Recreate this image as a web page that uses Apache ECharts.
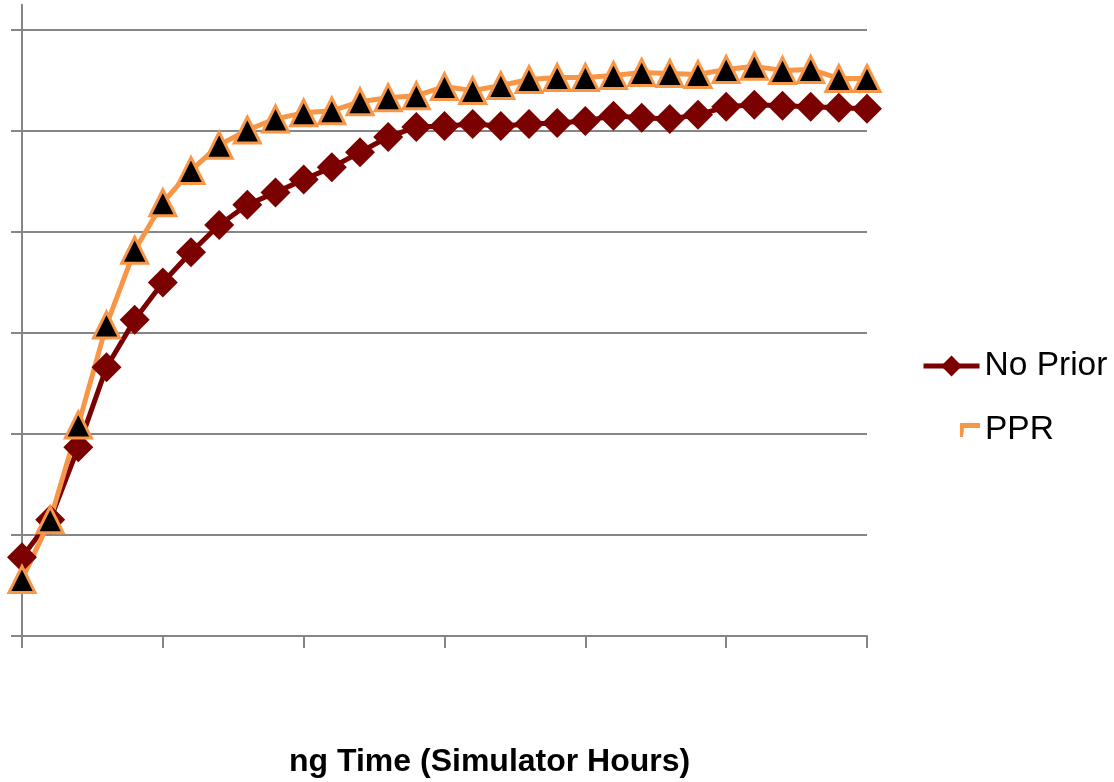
<!DOCTYPE html>
<html>
<head>
<meta charset="utf-8">
<script src="https://cdn.jsdelivr.net/npm/echarts@6/dist/echarts.min.js"></script>
<style>
html,body{margin:0;padding:0;background:#fff;}
#chart{width:1114px;height:782px;}
</style>
</head>
<body>
<div id="chart"></div>
<script>
const categories = ['0','1','2','3','4','5','6','7','8','9','10','11','12','13','14','15',
  '16','17','18','19','20','21','22','23','24','25','26','27','28','29','30'];
const noPrior = [7.8, 11.5, 18.7, 26.6, 31.3, 35.0, 38.0, 40.7, 42.7, 43.9, 45.2, 46.4, 47.9, 49.4, 50.4, 50.5,
  50.7, 50.5, 50.7, 50.8, 51.0, 51.5, 51.3, 51.2, 51.6, 52.4, 52.6, 52.5, 52.4, 52.3, 52.2];
const ppr = [5.6, 11.5, 20.9, 30.8, 38.2, 42.9, 46.1, 48.6, 50.1, 51.2, 51.8, 52.0, 52.9, 53.3, 53.5, 54.4,
  54.0, 54.5, 55.1, 55.3, 55.3, 55.5, 55.8, 55.7, 55.6, 56.1, 56.4, 56.0, 56.1, 55.2, 55.2];
const yTicks = [0, 10, 20, 30, 40, 50, 60];
const seriesNames = ['No Prior', 'PPR'];
const xTitle = 'ng Time (Simulator Hours)';

const GRAY = '#868686';
const RED = '#7B0000';
const ORANGE = '#F79646';

const chart = echarts.init(document.getElementById('chart'), null, {renderer: 'canvas'});
chart.setOption({
  animation: false,
  backgroundColor: '#ffffff',
  title: {
    text: xTitle,
    left: 289,
    top: 746,
    padding: 0,
    textStyle: {fontFamily: 'Liberation Sans', fontWeight: 'bold', fontSize: 32, color: '#000'}
  },
  grid: {left: 22, right: 247, top: 4.75, bottom: 146, containLabel: false},
  legend: [
    {
      data: [{name: seriesNames[0]}],
      left: 921, top: 349, padding: 0,
      itemWidth: 56, itemHeight: 26,
      selectedMode: false,
      lineStyle: {width: 5, color: RED},
      textStyle: {fontFamily: 'Liberation Sans', fontSize: 33.5, color: '#000'}
    },
    {
      data: [{name: seriesNames[1], icon: 'path://M0,0 L20,0 L20,5 L4,5 L3,14 L0,14 Z', itemStyle: {color: ORANGE, borderWidth: 0}}],
      left: 960, top: 413, padding: 0,
      itemWidth: 20, itemHeight: 14,
      selectedMode: false,
      textStyle: {fontFamily: 'Liberation Sans', fontSize: 33.5, color: '#000'}
    }
  ],
  xAxis: {
    type: 'category',
    data: categories,
    boundaryGap: false,
    axisLine: {show: true, lineStyle: {color: GRAY, width: 2}},
    axisTick: {show: true, interval: 4, length: 12, inside: false, lineStyle: {color: GRAY, width: 2}},
    axisLabel: {show: false},
    splitLine: {show: false}
  },
  yAxis: {
    type: 'value',
    min: 0, max: 62.5, interval: 10,
    axisLine: {show: true, lineStyle: {color: GRAY, width: 2}},
    axisTick: {show: true, length: 11, lineStyle: {color: GRAY, width: 2}, customValues: yTicks},
    axisLabel: {show: false},
    splitLine: {show: true, lineStyle: {color: GRAY, width: 2}}
  },
  series: [
    {
      name: seriesNames[0],
      type: 'line',
      data: noPrior,
      symbol: 'diamond',
      symbolSize: [30, 30],
      showAllSymbol: true,
      lineStyle: {color: RED, width: 5},
      itemStyle: {color: RED, borderWidth: 0},
      emphasis: {disabled: true}
    },
    {
      name: seriesNames[1],
      type: 'line',
      data: ppr,
      symbol: 'triangle',
      symbolSize: [26, 26],
      showAllSymbol: true,
      lineStyle: {color: ORANGE, width: 5},
      itemStyle: {color: '#000000', borderColor: ORANGE, borderWidth: 3},
      emphasis: {disabled: true}
    }
  ]
});
</script>
</body>
</html>
